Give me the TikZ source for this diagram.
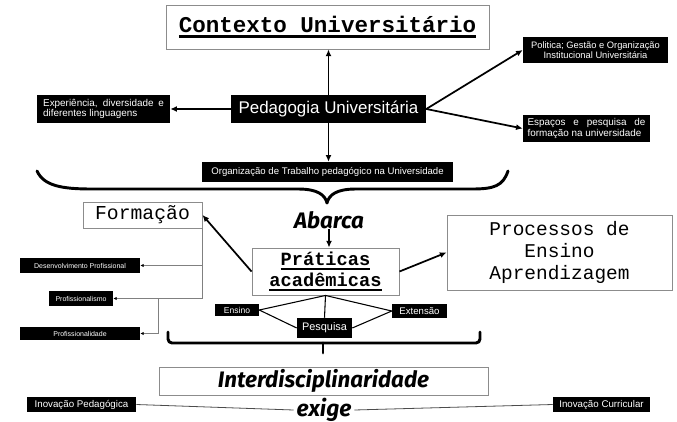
\documentclass[tikz,border=0pt]{standalone}
\usepackage{fontspec}
\setmainfont{Liberation Sans}
\setmonofont{Liberation Mono}
\newfontfamily\titlefont{Fira Sans}
\usetikzlibrary{arrows.meta}
\def\fsz#1#2{\fontsize{#1}{#2}\selectfont}
\newcommand{\ulword}[1]{\leavevmode\setbox0\hbox{#1}\rlap{\rule[-3.6pt]{\wd0}{1.6pt}}\box0}
\tikzset{
	whitebox/.style={draw=black!45, line width=0.7pt, fill=white, inner sep=0pt, align=center},
	blackbox/.style={fill=black, text=white, inner sep=0pt, align=center},
	thickarrow/.style={line width=1.3pt, -{Latex[length=5pt,width=4.5pt]}},
	thinarrow/.style={draw=black!50, line width=0.6pt, -{Latex[length=2.5pt,width=2.5pt,black]}},
	spoke/.style={line width=0.8pt},
	inolink/.style={draw=black!70, line width=0.6pt},
	bracket/.style={line width=2.2pt, line cap=round, line join=round},
	bigword/.style={font=\titlefont\bfseries\itshape, inner sep=0pt},
}

\begin{document}
\begin{tikzpicture}[x=0.75pt, y=-0.75pt]
			%%%%% START %%%%%
			\useasboundingbox[fill=white] (0,0) rectangle (677,421);

			% upper part
			\node[whitebox, minimum width=242.25pt, minimum height=33pt, font=\ttfamily\bfseries\fsz{16.9}{18}] (ctx) at (327.5,27) {\ulword{Contexto Universitário}};
			\node[blackbox, minimum width=146.25pt, minimum height=21pt, font=\fsz{12.7}{14}] (ped) at (328.5,109) {Pedagogia Universitária};
			\node[blackbox, minimum width=99.75pt, minimum height=21pt, text width=90.5pt, align=justify, font=\fsz{7.43}{7.8}] (exp) at (103.5,109) {Experiência, diversidade e\linebreak diferentes linguagens};
			\node[blackbox, minimum width=108.75pt, minimum height=19.5pt, font=\fsz{7}{7.5}] (pol) at (595.5,50) {Politica; Gestão e Organização\\Institucional Universitária};
			\node[blackbox, minimum width=95.25pt, minimum height=20.25pt, text width=88.5pt, align=justify, font=\fsz{7.43}{7.6}] (esp) at (586.5,128.5) {Espaços e pesquisa de\linebreak formação na universidade};
			\node[blackbox, minimum width=188.25pt, minimum height=15pt, font=\fsz{7.2}{8}] (org) at (327.5,172) {Organização de Trabalho pedagógico na Universidade};

			\draw[thickarrow] (ped.north) -- (ped.north |- ctx.south);
			\draw[thickarrow] (ped.west) -- (exp.east);
			\draw[thickarrow] (ped.east) -- (pol.west);
			\draw[thickarrow] (ped.east) -- (esp.west);
			\draw[thickarrow] (ped.south) -- (ped.south |- org.north);

			% big brace
			\draw[bracket] (37,171) .. controls (44,186) and (62,189) .. (92,189) -- (298,189) .. controls (318,189) and (325,195) .. (327,203) .. controls (329,195) and (336,189) .. (356,189) -- (472,189) .. controls (494,189) and (503,186) .. (508,171);

			% middle part
			\node[bigword, font=\titlefont\bfseries\itshape\fsz{16.8}{18}] (abc) at (329,220) {Abarca};
			\node[whitebox, minimum width=89.25pt, minimum height=19.5pt, font=\ttfamily\fsz{14.8}{16}] (frm) at (142.5,215) {Formação};
			\node[whitebox, minimum width=110.25pt, minimum height=35.25pt, font=\ttfamily\bfseries\fsz{14}{15.75}] (prt) at (325.5,271.5) {\ulword{Práticas}\\\ulword{acadêmicas}};
			\node[whitebox, minimum width=168.75pt, minimum height=56.25pt, font=\ttfamily\fsz{14.6}{16.5}] (prc) at (559.5,252.5) {Processos de\\Ensino\\Aprendizagem};

			\node[blackbox, minimum width=90pt, minimum height=11.25pt, font=\fsz{5.25}{6}] (dev) at (80,265.5) {Desenvolvimento Profissional};
			\node[blackbox, minimum width=48pt, minimum height=11.25pt, font=\fsz{5.25}{6}] (pfm) at (81,298.5) {Profissionalismo};
			\node[blackbox, minimum width=90pt, minimum height=9.75pt, font=\fsz{5.25}{6}] (pfd) at (80,333.5) {Profissionalidade};
			\coordinate (split) at (158,298.5);

			\node[blackbox, minimum width=33pt, minimum height=9pt, font=\fsz{6.4}{7}] (ens) at (237,310) {Ensino};
			\node[blackbox, minimum width=41.25pt, minimum height=15pt, font=\fsz{8.2}{9}] (pes) at (324.5,328) {Pesquisa};
			\node[blackbox, minimum width=41.25pt, minimum height=10.5pt, font=\fsz{7.2}{8}] (ext) at (419.5,311) {Extensão};

			\draw[thickarrow] (abc.south) -- (abc.south |- prt.north);
			\draw[thickarrow] (prt.west) -- (frm.east);
			\draw[thickarrow] (prt.east) -- (prc.west);
			\draw[thinarrow] (frm.south east) |- (dev.east);
			\draw[thinarrow] (frm.south east) |- (pfm.east);
			\draw[thinarrow] (split) |- (pfd.east);
			\draw[spoke] (ens.east) -- (prt.south) -- (ext.west);
			\draw[spoke] (prt.south) -- (pes.north);
			\draw[spoke] (ens.east) -- (pes.west);
			\draw[spoke] (ext.west) -- (pes.east);

			% lower bracket
			\draw[bracket, rounded corners=3pt] (168,332) -- (168,343) -- (480,343) -- (480,332);
			\draw[bracket] (323,343) -- (323,353);

			% lower part
			\node[whitebox, minimum width=246.75pt, minimum height=21pt, font=\titlefont\bfseries\itshape\fsz{16.8}{19}] (itd) at (323.5,381) {Interdisciplinaridade};
			\node[blackbox, minimum width=81.75pt, minimum height=11.25pt, font=\fsz{7.3}{8}] (ipd) at (81.5,404.5) {Inovação Pedagógica};
			\node[blackbox, minimum width=72.75pt, minimum height=11.25pt, font=\fsz{7.3}{8}] (icr) at (601.5,404.5) {Inovação Curricular};
			\node[bigword, font=\titlefont\bfseries\itshape\fsz{17}{18}] (exg) at (324,410) {exige};

			\draw[inolink] (ipd.east) -- ([xshift=-2pt]exg.west);
			\draw[inolink] ([xshift=2pt]exg.east) -- (icr.west);
			%%%%% END %%%%%
\end{tikzpicture}
\end{document}
